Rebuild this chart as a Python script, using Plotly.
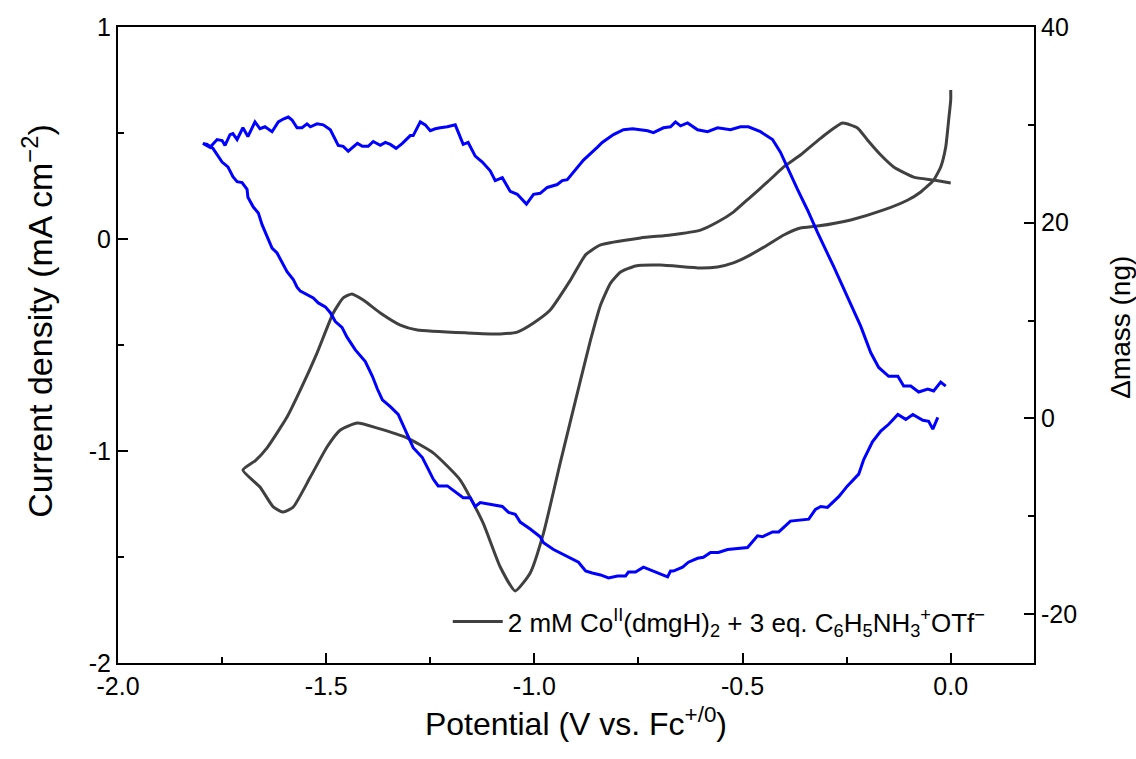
import plotly.graph_objects as go

# ---- CV (current density, left axis) ----
cv_potential = [
    0.000, 0.000, -0.005, -0.012, -0.024, -0.041, -0.072, -0.103, -0.161, -0.240,
    -0.320, -0.361, -0.401, -0.440, -0.481, -0.522, -0.560, -0.601, -0.697, -0.757,
    -0.793, -0.817, -0.841, -0.865, -0.889, -0.938, -0.978, -1.010, -1.046,
    -1.082, -1.123, -1.178, -1.243, -1.305, -1.377, -1.425, -1.466, -1.498, -1.538,
    -1.579, -1.603, -1.627, -1.659, -1.700,
    -1.670, -1.642, -1.594, -1.562, -1.522, -1.483, -1.459, -1.438, -1.411, -1.370, -1.322,
    -1.281, -1.161, -1.082, -1.041, -1.002, -0.962, -0.913, -0.877, -0.841, -0.745,
    -0.673, -0.601, -0.560, -0.522, -0.481, -0.440, -0.401, -0.361, -0.312, -0.260,
    -0.224, -0.200, -0.168, -0.137, -0.089, -0.041, 0.000,
]
cv_current = [
    0.703, 0.656, 0.561, 0.434, 0.340, 0.278, 0.222, 0.184, 0.137, 0.090,
    0.061, 0.052, 0.019, -0.028, -0.075, -0.113, -0.132, -0.137, -0.123, -0.127,
    -0.156, -0.208, -0.311, -0.476, -0.665, -1.057, -1.387, -1.575, -1.660,
    -1.547, -1.340, -1.137, -1.009, -0.939, -0.892, -0.868, -0.901, -0.981, -1.123,
    -1.264, -1.288, -1.264, -1.170, -1.090,
    -1.045, -0.985, -0.840, -0.712, -0.538, -0.349, -0.278, -0.259, -0.288, -0.349, -0.406,
    -0.429, -0.443, -0.448, -0.439, -0.396, -0.335, -0.193, -0.075, -0.028, 0.005,
    0.019, 0.042, 0.080, 0.127, 0.198, 0.269, 0.340, 0.396, 0.476, 0.547,
    0.524, 0.467, 0.396, 0.340, 0.292, 0.278, 0.264,
]

# ---- EQCM mass change (right axis) ----
mass_potential = [
    -0.031, -0.043, -0.053, -0.067, -0.091, -0.108, -0.127, -0.149, -0.168, -0.188,
    -0.209, -0.221, -0.248, -0.269, -0.296, -0.312, -0.325, -0.341, -0.385, -0.413,
    -0.428, -0.452, -0.464, -0.488, -0.536, -0.558, -0.577, -0.594, -0.608, -0.630,
    -0.644, -0.666, -0.673, -0.680, -0.692, -0.714, -0.738, -0.757, -0.774, -0.781,
    -0.800, -0.822, -0.841, -0.861, -0.877, -0.894, -0.921, -0.954, -0.978, -0.986,
    -1.010, -1.034, -1.046, -1.062, -1.077, -1.106, -1.130, -1.142, -1.154, -1.171,
    -1.195, -1.209, -1.231, -1.243, -1.257, -1.269, -1.291, -1.303, -1.317, -1.327,
    -1.346, -1.365, -1.377, -1.389, -1.406, -1.430, -1.450, -1.462, -1.478, -1.490,
    -1.502, -1.519, -1.531, -1.543, -1.562, -1.570, -1.579, -1.594, -1.606, -1.618,
    -1.630, -1.642, -1.654, -1.663, -1.675, -1.688, -1.690, -1.702, -1.714, -1.724,
    -1.736, -1.750, -1.762, -1.772, -1.786, -1.796,
    -1.779, -1.762, -1.750, -1.743, -1.731, -1.724, -1.714, -1.700, -1.688, -1.671,
    -1.659, -1.647, -1.630, -1.615, -1.603, -1.591, -1.582, -1.570, -1.558, -1.546,
    -1.538, -1.522, -1.507, -1.490, -1.471, -1.459, -1.447, -1.425, -1.413, -1.399,
    -1.387, -1.370, -1.358, -1.346, -1.332, -1.317, -1.298, -1.291, -1.274, -1.262,
    -1.250, -1.238, -1.226, -1.209, -1.190, -1.171, -1.159, -1.142, -1.125, -1.106,
    -1.094, -1.077, -1.058, -1.041, -1.019, -1.002, -0.986, -0.969, -0.945, -0.933,
    -0.921, -0.882, -0.849, -0.837, -0.810, -0.786, -0.764, -0.728, -0.714, -0.690,
    -0.673, -0.661, -0.649, -0.632, -0.608, -0.584, -0.560, -0.529, -0.505, -0.486,
    -0.457, -0.428, -0.409, -0.392, -0.368, -0.344, -0.320, -0.281, -0.248, -0.216,
    -0.192, -0.173, -0.149, -0.127, -0.113, -0.096, -0.077, -0.055, -0.041, -0.024,
    -0.012,
]
mass_change = [
    0.1, -1.1, -0.3, -0.2, 0.4, -0.1, 0.4, -0.6, -1.3, -2.4,
    -4.2, -5.7, -6.9, -8.0, -9.1, -9.0, -9.3, -10.3, -10.5, -11.6,
    -11.6, -12.1, -12.0, -13.2, -13.4, -13.7, -13.7, -14.2, -14.3, -14.7,
    -15.2, -15.6, -15.6, -16.2, -16.0, -15.6, -15.2, -15.7, -15.7, -16.1,
    -16.1, -16.3, -16.0, -15.8, -15.6, -14.7, -14.1, -13.4, -12.7, -12.1,
    -11.3, -10.6, -9.8, -9.6, -9.0, -8.8, -8.6, -9.0, -8.1, -8.1,
    -7.4, -6.9, -6.9, -6.2, -5.0, -4.0, -3.0, -1.9, -0.6, 0.4,
    1.2, 1.9, 3.0, 4.3, 5.8, 7.0, 8.3, 9.3, 9.9, 10.8,
    11.4, 11.8, 12.3, 12.6, 13.0, 13.4, 14.2, 15.0, 15.9, 16.9,
    17.4, 18.6, 19.8, 21.0, 21.6, 22.6, 23.4, 24.1, 24.2, 24.7,
    25.7, 26.2, 26.9, 27.6, 28.0, 28.1,
    27.7, 28.5, 28.4, 27.9, 29.0, 29.1, 28.5, 29.7, 28.8, 30.3,
    29.6, 29.8, 29.3, 30.3, 30.6, 30.8, 30.5, 29.7, 29.7, 30.1,
    29.8, 30.1, 30.0, 29.5, 27.9, 27.8, 27.3, 28.1, 27.8, 27.8,
    28.3, 27.9, 28.2, 28.0, 27.6, 28.1, 28.9, 28.9, 30.3, 30.0,
    29.4, 29.6, 29.7, 29.8, 30.0, 28.0, 28.2, 26.8, 26.2, 25.3,
    24.3, 24.6, 23.2, 22.9, 21.9, 22.9, 23.0, 23.6, 23.9, 24.3,
    24.4, 26.4, 27.7, 28.2, 29.0, 29.5, 29.6, 29.4, 29.2, 29.7,
    29.8, 30.3, 29.9, 30.2, 29.5, 29.3, 29.7, 29.5, 29.8, 29.8,
    29.3, 28.5, 27.2, 25.6, 23.4, 21.3, 19.0, 15.5, 12.4, 9.4,
    6.7, 5.2, 4.3, 4.3, 3.3, 3.3, 2.7, 3.0, 2.8, 3.7,
    3.3,
]

x_tickvals = [-2.0, -1.5, -1.0, -0.5, 0.0]
x_ticktext = ["-2.0", "-1.5", "-1.0", "-0.5", "0.0"]
y_tickvals = [-2, -1, 0, 1]
y_ticktext = ["-2", "-1", "0", "1"]
y2_tickvals = [-20, 0, 20, 40]
y2_ticktext = ["-20", "0", "20", "40"]

legend_label = ("2 mM Co<sup>II</sup>(dmgH)<sub>2</sub> + 3 eq. "
                "C<sub>6</sub>H<sub>5</sub>NH<sub>3</sub><sup>+</sup>OTf<sup>\u2212</sup>")
x_title = "Potential (V vs. Fc<sup>+/0</sup>)"
y_title = "Current density (mA cm<sup>\u22122</sup>)"
y2_title = "\u0394mass (ng)"

FONT = "Liberation Sans, Arial, sans-serif"
TICK_SIZE = 25

fig = go.Figure()
fig.add_trace(go.Scatter(
    x=cv_potential, y=cv_current, mode="lines", name=legend_label,
    line=dict(color="#404040", width=3, shape="spline", smoothing=0.5),
    yaxis="y", showlegend=True,
))
fig.add_trace(go.Scatter(
    x=mass_potential, y=mass_change, mode="lines", name="mass",
    line=dict(color="#0000ff", width=3),
    yaxis="y2", showlegend=False,
))

axis_common = dict(
    showgrid=False, zeroline=False, showline=True, linecolor="black", linewidth=2,
    ticks="inside", ticklen=10, tickwidth=2, tickcolor="black",
    tickfont=dict(family=FONT, size=TICK_SIZE, color="black"),
)

fig.update_layout(
    width=1136, height=759,
    margin=dict(l=118, r=102, t=27, b=96),
    paper_bgcolor="white", plot_bgcolor="white",
    font=dict(family=FONT, color="black"),
    xaxis=dict(
        **axis_common, range=[-2.0, 0.2], mirror=True,
        tickvals=x_tickvals, ticktext=x_ticktext,
        minor=dict(dtick=0.25, ticks="inside", ticklen=6, tickwidth=2, tickcolor="black"),
        title=dict(text=x_title,
                   font=dict(family=FONT, size=32, color="black"), standoff=14),
    ),
    yaxis=dict(
        **axis_common, range=[-2, 1],
        tickvals=y_tickvals, ticktext=y_ticktext,
        minor=dict(dtick=0.5, ticks="inside", ticklen=6, tickwidth=2, tickcolor="black"),
    ),
    yaxis2=dict(
        **axis_common, range=[-25, 40], overlaying="y", side="right",
        tickvals=y2_tickvals, ticktext=y2_ticktext,
        minor=dict(dtick=10, tick0=0, ticks="inside", ticklen=6, tickwidth=2, tickcolor="black"),
    ),
    legend=dict(
        x=0.36, y=0.065, xanchor="left", yanchor="middle",
        bgcolor="rgba(0,0,0,0)", borderwidth=0,
        font=dict(family=FONT, size=26, color="black"),
        itemwidth=50,
    ),
    showlegend=True,
    annotations=[
        dict(text=y_title, textangle=-90, xref="paper", yref="paper",
             x=-0.0873, y=0.538, xanchor="center", yanchor="middle", showarrow=False,
             font=dict(family=FONT, size=34, color="black")),
        dict(text=y2_title, textangle=-90, xref="paper", yref="paper",
             x=1.095, y=0.527, xanchor="center", yanchor="middle", showarrow=False,
             font=dict(family=FONT, size=28, color="black")),
    ],
)

fig.write_html("out.html")
